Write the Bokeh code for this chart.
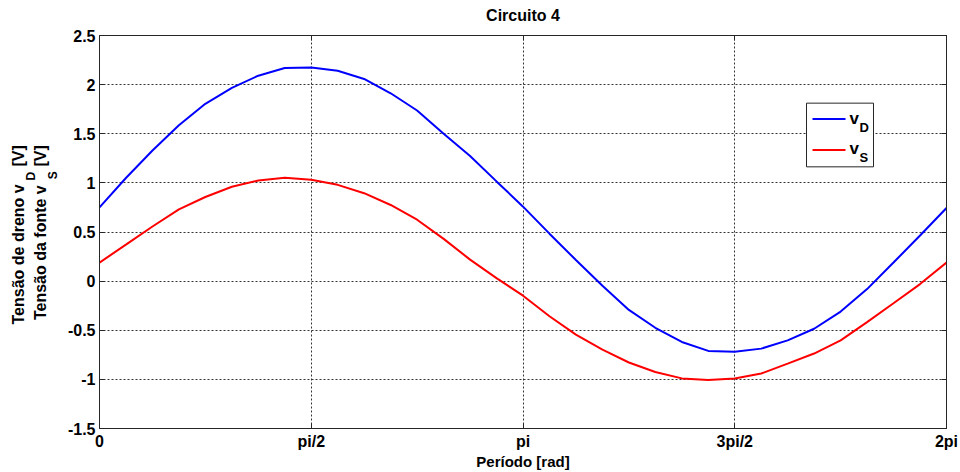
import math
from bokeh.plotting import figure
from bokeh.layouts import row, column
from bokeh.core.properties import value
from bokeh.models import Range1d, FixedTicker, LinearAxis
from bokeh.embed import file_html
from bokeh.resources import INLINE

x_rad = [0.000, 0.196, 0.393, 0.589, 0.785, 0.982, 1.178, 1.374, 1.571,
         1.767, 1.963, 2.160, 2.356, 2.553, 2.749, 2.945, 3.142,
         3.338, 3.534, 3.731, 3.927, 4.123, 4.320, 4.516, 4.712,
         4.909, 5.105, 5.301, 5.498, 5.694, 5.890, 6.087, 6.283]
v_d = [0.750, 1.050, 1.330, 1.586, 1.805, 1.967, 2.091, 2.169, 2.175,
       2.141, 2.058, 1.912, 1.737, 1.500, 1.273, 1.015, 0.758,
       0.483, 0.215, -0.047, -0.293, -0.475, -0.619, -0.710, -0.720,
       -0.687, -0.603, -0.485, -0.310, -0.081, 0.189, 0.465, 0.744]
v_s = [0.189, 0.371, 0.556, 0.730, 0.856, 0.960, 1.025, 1.052, 1.032,
       0.980, 0.895, 0.775, 0.625, 0.430, 0.219, 0.030, -0.148,
       -0.357, -0.545, -0.697, -0.828, -0.925, -0.990, -1.007, -0.990,
       -0.940, -0.840, -0.737, -0.603, -0.417, -0.225, -0.030, 0.189]

x_ticks = [0.0, math.pi / 2, math.pi, 3 * math.pi / 2, 2 * math.pi]
x_tick_labels = ["0", "pi/2", "pi", "3pi/2", "2pi"]
y_ticks = [-1.5, -1.0, -0.5, 0.0, 0.5, 1.0, 1.5, 2.0, 2.5]
y_tick_labels = ["-1.5", "-1", "-0.5", "0", "0.5", "1", "1.5", "2", "2.5"]

title_text = "Circuito 4"
x_label = "Período [rad]"
y_label_parts = [  # (text, centre x, centre y in strip units, font size)
    ("Tensão de dreno v", 18, 274, "16px"),
    ("D", 30, 185, "12px"),
    ("[V]", 18, 162, "16px"),
    ("Tensão da fonte v", 40, 272, "16px"),
    ("S", 52, 184, "12px"),
    ("[V]", 40, 162, "16px"),
]
series_names = ["v", "v"]
series_subs = ["D", "S"]
series_colors = ["#0000ff", "#ff0000"]

FONT = "Liberation Sans"
W, H = 960, 472
LW = 62          # width of the strip that carries the y-axis title
TH = 25          # height of the strip that carries the chart title
FL, FR, FT, FB = 99, 946, 35, 430  # frame edges in page px
BOX = "#262626"


def strip(w, h, x0, y0):
    f = figure(width=w, height=h, title=None,
               x_range=Range1d(x0, x0 + w), y_range=Range1d(y0 + h, y0),
               x_axis_type=None, y_axis_type=None, output_backend="svg",
               toolbar_location=None, min_border=0, outline_line_color=None)
    f.grid.visible = False
    f.background_fill_color = "white"
    f.border_fill_color = "white"
    return f


def put_text(f, txt, x, y, size, angle=0.0, align="left"):
    f.text(x=[x], y=[y], text=[txt], angle=angle,
           text_font=value(FONT), text_font_size=value(size),
           text_font_style="bold", text_color="black",
           text_align=align, text_baseline="middle")


# ---------- chart title strip ----------
top = strip(W, TH, 0, 0)
put_text(top, title_text, (FL + FR) / 2, 15, "16px", align="center")

# ---------- y-axis title strip ----------
ylab = strip(LW, H - TH, 0, TH)
for txt, cx, cy, fs in y_label_parts:
    put_text(ylab, txt, cx, cy, fs, angle=math.pi / 2, align="center")

# ---------- main plot ----------
p = figure(width=W - LW, height=H - TH,
           x_range=Range1d(x_ticks[0], x_ticks[-1]),
           y_range=Range1d(y_ticks[0], y_ticks[-1]),
           output_backend="svg", toolbar_location=None,
           min_border_left=FL - LW, min_border_right=W - FR,
           min_border_top=FT - TH, min_border_bottom=H - FB)
p.background_fill_color = "white"
p.border_fill_color = "white"
p.outline_line_color = BOX

xt = FixedTicker(ticks=x_ticks)
yt = FixedTicker(ticks=y_ticks)
x_over = {t: l for t, l in zip(x_ticks, x_tick_labels)}
y_over = {t: l for t, l in zip(y_ticks, y_tick_labels)}

for ax in [p.xaxis[0], p.yaxis[0]]:
    ax.major_tick_in = 5
    ax.major_tick_out = 0
    ax.minor_tick_line_color = None
    ax.axis_line_color = BOX
    ax.major_tick_line_color = BOX
    ax.major_label_text_font = FONT
    ax.major_label_text_font_size = "16px"
    ax.major_label_text_font_style = "bold"
    ax.major_label_text_color = "black"

p.xaxis[0].ticker = xt
p.xaxis[0].major_label_overrides = x_over
p.xaxis[0].major_label_standoff = 4
p.xaxis.axis_label = x_label
p.xaxis.axis_label_text_font = FONT
p.xaxis.axis_label_text_font_size = "15px"
p.xaxis.axis_label_text_font_style = "bold"
p.xaxis.axis_label_text_color = "black"
p.xaxis.axis_label_standoff = 0

p.yaxis[0].ticker = yt
p.yaxis[0].major_label_overrides = y_over
p.yaxis[0].major_label_standoff = 4

# box ticks on top and right (no labels drawn)
for loc, tk in [("above", xt), ("right", yt)]:
    ax = LinearAxis(ticker=tk, major_tick_in=5, major_tick_out=0,
                    minor_tick_line_color=None, axis_line_color=BOX,
                    major_tick_line_color=BOX,
                    major_label_text_color=None,
                    major_label_text_font_size="1px", major_label_standoff=0)
    p.add_layout(ax, loc)

for g, tk in [(p.xgrid[0], xt), (p.ygrid[0], yt)]:
    g.ticker = tk
    g.grid_line_color = "#333333"
    g.grid_line_dash = "2 2"
    g.grid_line_width = 1

for ys, c in zip([v_d, v_s], series_colors):
    p.line(x_rad, ys, line_color=c, line_width=2)

# ---------- legend (drawn by hand so that it can carry subscripts) ----------
xs0, xs1 = x_ticks[0], x_ticks[-1]
ys0, ys1 = y_ticks[0], y_ticks[-1]


def to_x(px):
    return xs0 + (px - FL) * (xs1 - xs0) / (FR - FL)


def to_y(py):
    return ys0 + (FB - py) * (ys1 - ys0) / (FB - FT)


p.quad(left=[to_x(806)], right=[to_x(873)], top=[to_y(103)], bottom=[to_y(167)],
       fill_color="white", line_color=BOX, line_width=1)
for i, (nm, sub, c) in enumerate(zip(series_names, series_subs, series_colors)):
    cy = 119 + 31 * i
    p.segment(x0=[to_x(812)], y0=[to_y(cy)], x1=[to_x(845)], y1=[to_y(cy)],
              line_color=c, line_width=2)
    put_text(p, nm, to_x(849), to_y(cy - 1), "17px")
    put_text(p, sub, to_x(859), to_y(cy + 8), "13px")

open("out.html", "w").write(file_html(column(top, row(ylab, p)), INLINE))
